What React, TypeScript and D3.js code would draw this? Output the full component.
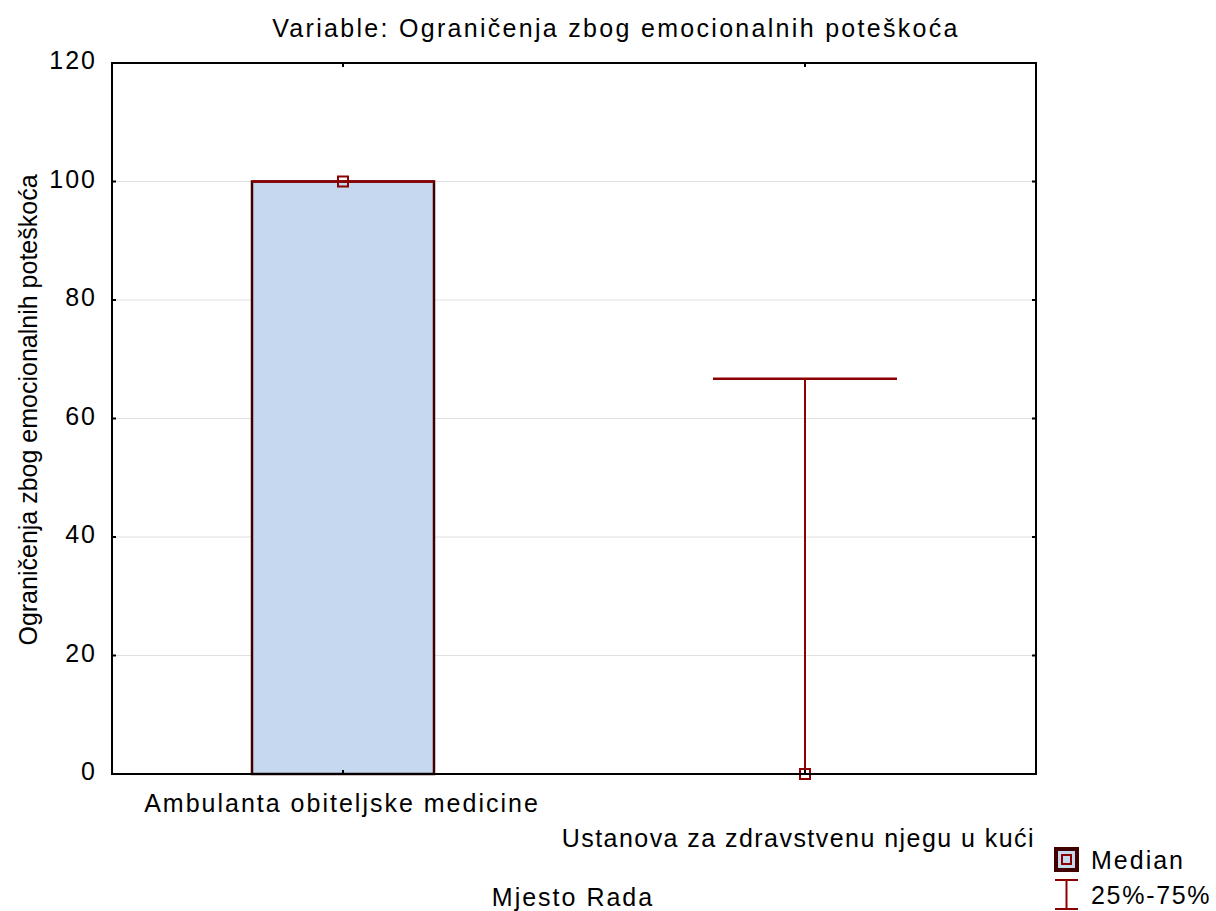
import React from "react";
import * as d3 from "d3";

const categories = ["Ambulanta obiteljske medicine", "Ustanova za zdravstvenu njegu u kući"];
const medians = [100, 0];
const q1s = [0, 0];
const q3s = [100, 66.7];
const yTicks = [0, 20, 40, 60, 80, 100, 120];

const W = 1216, H = 911;
const L = 112, R = 1036, T = 63, B = 774;

export default function App() {
  const y = d3.scaleLinear().domain([0, 120]).range([B, T]);
  const x = d3.scalePoint<string>().domain(categories).range([L, R]).padding(0.5);
  const boxHalf = 91;
  const capHalf = 92;
  const font = "'Liberation Sans', Arial, sans-serif";
  const fs = 25;
  const ls = 2;
  return (
    <svg width={W} height={H} style={{ position: "absolute", left: 0, top: 0, background: "#fff" }} fontFamily={font} letterSpacing={ls}>
      <rect x={0} y={0} width={W} height={H} fill="#fff" />
      <text x={616} y={37} fontSize={fs} letterSpacing={2.3} textAnchor="middle" fill="#000">Variable: Ograničenja zbog emocionalnih poteškoća</text>
      {yTicks.filter(t => t > 0 && t < 120).map(t => (
        <line key={t} x1={L} x2={R} y1={y(t)} y2={y(t)} stroke="#e0e0e0" strokeWidth={1} />
      ))}
      {categories.map((c, i) => {
        const cx = x(c)!;
        const boxTop = y(q3s[i]);
        const boxBot = y(q1s[i]);
        const isBox = i === 0;
        return (
          <g key={c}>
            {isBox ? (
              <>
                <rect x={cx - boxHalf} y={boxTop} width={boxHalf * 2} height={boxBot - boxTop} fill="#c6d8ef" stroke="#400000" strokeWidth={2.5} />
                <line x1={cx - boxHalf} x2={cx + boxHalf} y1={boxTop} y2={boxTop} stroke="#8b0000" strokeWidth={2.5} />
              </>
            ) : (
              <>
                <line x1={cx} x2={cx} y1={boxBot} y2={boxTop} stroke="#8b0000" strokeWidth={2} />
                <line x1={cx - capHalf} x2={cx + capHalf} y1={boxTop} y2={boxTop} stroke="#8b0000" strokeWidth={2.5} />
              </>
            )}
            <rect x={cx - 5} y={y(medians[i]) - 5} width={10} height={10} fill="none" stroke="#8b0000" strokeWidth={2} />
          </g>
        );
      })}
      <rect x={L} y={T} width={R - L} height={B - T} fill="none" stroke="#000" strokeWidth={2} />
      {yTicks.map(t => (
        <g key={t}>
          <line x1={L} x2={L + 4} y1={y(t)} y2={y(t)} stroke="#000" strokeWidth={2} />
          <line x1={R} x2={R - 4} y1={y(t)} y2={y(t)} stroke="#000" strokeWidth={2} />
          <text x={97} y={y(t) + 6} fontSize={fs} textAnchor="end" fill="#000">{t}</text>
        </g>
      ))}
      {categories.map(c => (
        <g key={c}>
          <line x1={x(c)!} x2={x(c)!} y1={B} y2={B - 4} stroke="#000" strokeWidth={2} />
          <line x1={x(c)!} x2={x(c)!} y1={T} y2={T + 4} stroke="#000" strokeWidth={2} />
        </g>
      ))}
      <text x={x(categories[0])! - 1} y={812} fontSize={fs} textAnchor="middle" fill="#000">{categories[0]}</text>
      <text x={1035} y={847} fontSize={fs} letterSpacing={1.45} textAnchor="end" fill="#000">{categories[1]}</text>
      <text x={573} y={906} fontSize={fs} textAnchor="middle" fill="#000">Mjesto Rada</text>
      <text transform={`translate(37,410) rotate(-90)`} fontSize={fs} letterSpacing={0} textAnchor="middle" fill="#000">Ograničenja zbog emocionalnih poteškoća</text>
      <g>
        <rect x={1056} y={849} width={21} height={21} fill="#c6d8ef" stroke="#400000" strokeWidth={4} />
        <rect x={1062} y={855} width={9} height={9} fill="none" stroke="#8b0000" strokeWidth={2} />
        <text x={1091} y={869} fontSize={fs} fill="#000">Median</text>
        <line x1={1055} x2={1078} y1={880} y2={880} stroke="#8b0000" strokeWidth={2} />
        <line x1={1055} x2={1078} y1={909} y2={909} stroke="#8b0000" strokeWidth={2} />
        <line x1={1066.5} x2={1066.5} y1={880} y2={909} stroke="#8b0000" strokeWidth={2} />
        <text x={1091} y={904} fontSize={fs} letterSpacing={1.7} fill="#000">25%-75%</text>
      </g>
    </svg>
  );
}
